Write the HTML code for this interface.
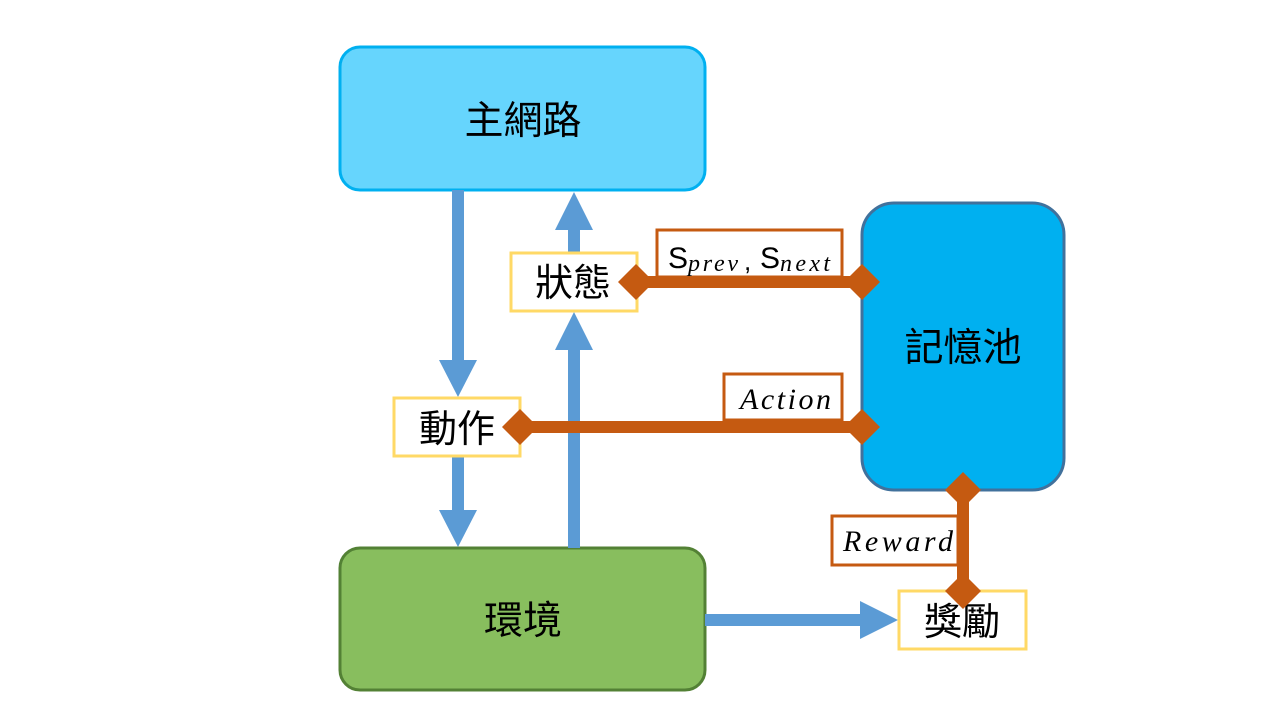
<!DOCTYPE html>
<html><head><meta charset="utf-8"><style>
html,body{margin:0;padding:0;background:#fff;width:1280px;height:720px;overflow:hidden}
svg text{font-family:"Liberation Sans","Noto Sans CJK TC",sans-serif;}
.it{font-family:"Liberation Serif","DejaVu Serif",serif;font-style:italic}
</style></head><body>
<svg width="1280" height="720" xmlns="http://www.w3.org/2000/svg">
<rect x="340" y="47" width="365" height="143" rx="20" fill="#66D5FD" stroke="#00B0F0" stroke-width="3"/>
<text x="523" y="134" font-size="39" text-anchor="middle">主網路</text>
<rect x="862" y="203" width="202" height="287" rx="32" fill="#00B0F0" stroke="#41719C" stroke-width="3"/>
<text x="963" y="361" font-size="39" text-anchor="middle">記憶池</text>
<rect x="340" y="548" width="365" height="142" rx="20" fill="#88BE5E" stroke="#538135" stroke-width="3"/>
<text x="523" y="634" font-size="39" text-anchor="middle">環境</text>

<g fill="#5B9BD5">
<rect x="452" y="190" width="12" height="172"/>
<polygon points="439,360 477,360 458,397"/>
<rect x="452" y="456" width="12" height="56"/>
<polygon points="439,510 477,510 458,547"/>
<rect x="568" y="348" width="12" height="200"/>
<polygon points="555,350 593,350 574,312"/>
<rect x="568" y="228" width="12" height="25"/>
<polygon points="555,230 593,230 574,192"/>
<rect x="705" y="614" width="158" height="12"/>
<polygon points="860,601 860,639 898,620"/>
</g>

<rect x="511" y="253" width="126" height="58" fill="#fff" stroke="#FFD966" stroke-width="3"/>
<text x="573" y="296" font-size="38" text-anchor="middle">狀態</text>
<rect x="394" y="398" width="126" height="58" fill="#fff" stroke="#FFD966" stroke-width="3"/>
<text x="457" y="442" font-size="38" text-anchor="middle">動作</text>
<rect x="899" y="591" width="127" height="58" fill="#fff" stroke="#FFD966" stroke-width="3"/>
<text x="962" y="635" font-size="38" text-anchor="middle">獎勵</text>

<g fill="#fff" stroke="#C55A11" stroke-width="3">
<rect x="657" y="230" width="185" height="47"/>
<rect x="724" y="374" width="118" height="46"/>
<rect x="832" y="516" width="126" height="49"/>
</g>
<text x="668" y="268" font-size="30">S</text>
<text x="688" y="271" font-size="24" class="it" textLength="50" lengthAdjust="spacing">prev</text>
<text x="744" y="270" font-size="26">,</text>
<text x="760" y="268" font-size="30">S</text>
<text x="780" y="271" font-size="24" class="it" textLength="50" lengthAdjust="spacing">next</text>
<text x="740" y="409" font-size="30" class="it" textLength="91" lengthAdjust="spacing">Action</text>
<text x="843" y="551" font-size="30" class="it" textLength="110" lengthAdjust="spacing">Reward</text>

<g fill="#C55A11">
<rect x="636" y="276" width="226" height="12"/>
<polygon points="618,282 636,264 654,282 636,300"/>
<polygon points="844,282 862,264 880,282 862,300"/>
<rect x="520" y="421" width="342" height="12"/>
<polygon points="502,427 520,409 538,427 520,445"/>
<polygon points="844,427 862,409 880,427 862,445"/>
<rect x="957" y="490" width="12" height="101"/>
<polygon points="945,490 963,472 981,490 963,508"/>
<polygon points="945,591 963,573 981,591 963,609"/>
</g>
</svg>
</body></html>
